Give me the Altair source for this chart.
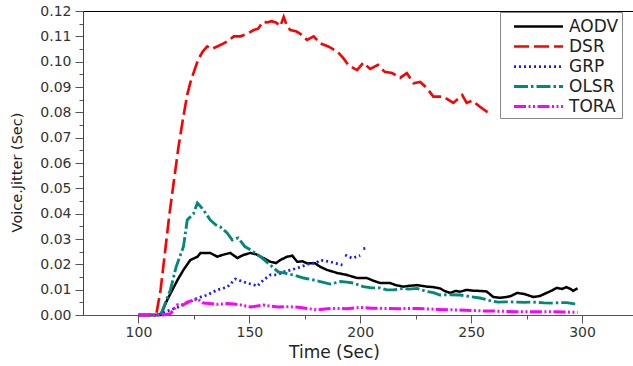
import altair as alt
import pandas as pd

SERIES = ["AODV", "DSR", "GRP", "OLSR", "TORA"]
COLORS = ["#000000", "#ff0000", "#1a1aff", "#00897b", "#ff00ff"]
DASHES = [[1, 0], [15, 5], [2, 3], [14, 3, 2.5, 3], [12, 2.5, 2, 2.5, 2, 2.5]]
WIDTHS = [2.5, 3, 2.2, 2.5, 2.2]

X_TICKS = [100, 125, 150, 175, 200, 225, 250, 275, 300]
Y_TICKS = [round(i * 0.005, 3) for i in range(25)]

AODV = [[(100, 0), (110, 0), (113, 0.006), (117.6, 0.0138), (120.3, 0.0178), (123.4, 0.0217),
         (126.6, 0.023), (128, 0.0245), (132.4, 0.0245), (135.5, 0.023), (137.8, 0.0237),
         (141.4, 0.0245), (144.6, 0.0225), (147.3, 0.0237), (150.5, 0.0245), (153, 0.024),
         (156.3, 0.0225), (159.5, 0.021), (162, 0.0205), (164, 0.0217), (167, 0.023),
         (169.4, 0.0234), (171.6, 0.021), (174, 0.0212), (176, 0.0204), (179.7, 0.0204),
         (182, 0.019), (185, 0.0178), (189.6, 0.0166), (194, 0.0158), (198.6, 0.0146),
         (203, 0.0146), (206, 0.0135), (209, 0.0126), (213.5, 0.0126), (216, 0.0118),
         (219.4, 0.0112), (222, 0.0115), (225.6, 0.0118), (230, 0.0112), (233, 0.011),
         (236, 0.0105), (238, 0.0095), (240.5, 0.0087), (243, 0.0095), (245, 0.0092),
         (248, 0.0099), (251, 0.0096), (254, 0.0095), (257, 0.0093), (260, 0.0071),
         (263, 0.0068), (266, 0.0071), (268, 0.0075), (270.7, 0.0087), (274, 0.0083),
         (278, 0.0071), (281, 0.0075), (284, 0.0087), (286, 0.0095), (288.7, 0.0107),
         (291, 0.0103), (293, 0.011), (295, 0.0102), (296, 0.0095), (298, 0.0105)]]

DSR = [[(100, 0), (108, 0), (110, 0.010), (112, 0.025), (114, 0.040), (116, 0.053), (118, 0.066),
        (120, 0.077), (122, 0.087), (123.5, 0.092), (125, 0.096), (127, 0.101), (129, 0.104),
        (131, 0.106), (133, 0.105), (135.5, 0.106), (138, 0.107), (140, 0.108), (143, 0.110),
        (146, 0.110), (149, 0.111), (152, 0.1125), (154, 0.113), (156, 0.1157), (158, 0.1155),
        (160, 0.116), (162, 0.1155), (164, 0.114), (165.5, 0.1177), (167, 0.114),
        (168.5, 0.1125), (171, 0.112), (173, 0.111), (176, 0.1086), (179, 0.110),
        (182, 0.1072), (185.6, 0.106), (189.6, 0.104), (192.3, 0.1015), (194.6, 0.0987),
        (198.6, 0.0967), (201.4, 0.0996), (204.5, 0.0971), (208, 0.0987), (211, 0.096),
        (214.4, 0.0955), (218, 0.0936), (221, 0.0955), (224, 0.0915), (227, 0.092),
        (230, 0.0896), (233, 0.0862), (237.4, 0.0862), (242, 0.0837), (246, 0.0868),
        (248, 0.0837), (250.5, 0.0846), (254, 0.0822), (257, 0.0803), (259, 0.0797)]]

GRP = [[(100, 0), (108.5, 0), (111, 0.001), (114.4, 0.002), (117.6, 0.003), (122, 0.0047),
        (124.8, 0.0059), (126.6, 0.0067), (131, 0.0079), (135.5, 0.0099), (140, 0.011),
        (143.7, 0.0142), (146, 0.0135), (149, 0.0126), (151.8, 0.012), (153.6, 0.0114),
        (156.3, 0.0138), (159.5, 0.0158), (162.6, 0.0158), (165.4, 0.017), (171.6, 0.0185),
        (177.5, 0.0204), (180, 0.0205), (182, 0.0217), (186.5, 0.021), (192, 0.0197)],
       [(193.2, 0.0237), (196.4, 0.0224), (200, 0.0235)],
       [(201.4, 0.0262), (203.6, 0.0264)]]

OLSR = [[(100, 0), (110, 0), (114.4, 0.0099), (117, 0.019), (120.3, 0.027), (122, 0.0375),
         (124.8, 0.040), (126.6, 0.0442), (129.3, 0.0415), (132.4, 0.0375), (135, 0.0355),
         (137, 0.0347), (140, 0.0324), (142.3, 0.0296), (145, 0.0304), (148, 0.027),
         (150.5, 0.0257), (155, 0.023), (159.5, 0.0197), (163, 0.017), (166, 0.0165),
         (170, 0.0158), (174.5, 0.0146), (178, 0.014), (182, 0.0132), (186.5, 0.0122),
         (191, 0.0132), (194, 0.013), (197, 0.0126), (201.4, 0.0112), (205, 0.0107),
         (209, 0.0107), (212, 0.0099), (215, 0.0099), (219.4, 0.0105), (222, 0.0102),
         (225.6, 0.0105), (230, 0.0093), (233, 0.0088), (236, 0.0079), (240, 0.008),
         (245, 0.0079), (250, 0.0072), (254, 0.0067), (258, 0.0058), (262, 0.0051),
         (266, 0.0052), (270.7, 0.0051), (274, 0.005), (278, 0.0051), (283, 0.0048),
         (287, 0.0047), (290, 0.0049), (293, 0.0049), (296, 0.0045), (298, 0.0043)]]

TORA = [[(100, 0), (111, 0), (114.4, 0.0005), (117.6, 0.004), (120.3, 0.004), (122, 0.0051),
         (124.8, 0.0059), (126.6, 0.0063), (129.3, 0.0047), (132, 0.0045), (135.5, 0.0042),
         (140, 0.0045), (143, 0.0043), (146, 0.004), (150.5, 0.0032), (153, 0.0035),
         (156.3, 0.0039), (160, 0.0035), (163, 0.0032), (168, 0.0033), (173, 0.003),
         (176, 0.0026), (180.6, 0.002), (184, 0.0024), (188, 0.0026), (194, 0.0025),
         (200, 0.003), (205, 0.0027), (210, 0.0026), (218, 0.0025), (225.6, 0.0026),
         (235, 0.0022), (243, 0.002), (250, 0.0018), (256, 0.0016), (263, 0.0015),
         (270, 0.0013), (278, 0.0013), (285, 0.0013), (292, 0.0012), (298, 0.001)]]

rows = []
for name, segs in zip(SERIES, [AODV, DSR, GRP, OLSR, TORA]):
    for k, seg in enumerate(segs):
        for t, v in seg:
            rows.append({"series": name, "key": f"{name}-{k}", "t": t, "v": v})
df = pd.DataFrame(rows)

FONT = "DejaVu Sans"

legend = alt.Legend(
    title=None, orient="none", legendX=417, legendY=1,
    symbolType="M-2.5,0L2.5,0", symbolSize=384, symbolStrokeWidth=2.5,
    labelFont=FONT, labelFontSize=17, labelColor="#222", labelOffset=19,
    padding=3, symbolOffset=24, strokeColor="#888", fillColor="white",
    rowPadding=0,
)

x_scale = alt.Scale(domain=[75, 323], nice=False, zero=False)
y_scale = alt.Scale(domain=[0, 0.12], nice=False)

lines = alt.Chart(df).mark_line().encode(
    x=alt.X("t:Q", scale=x_scale, axis=alt.Axis(
        values=X_TICKS, format="d",
        labelExpr="datum.value % 50 === 0 ? datum.label : ''",
        tickSize={"condition": {"test": "datum.value % 50 === 0", "value": 8}, "value": 4},
        labelPadding=2, labelFont=FONT, labelFontSize=14, labelColor="#333",
        domainColor="#555", tickColor="#555", grid=False,
        title="Time (Sec)", titleFont=FONT, titleFontSize=17, titleFontWeight="normal",
        titleColor="#222", titleX=251, titleY=37, titleBaseline="middle")),
    y=alt.Y("v:Q", scale=y_scale, axis=alt.Axis(
        values=Y_TICKS, format=".2f",
        labelExpr="round(datum.value * 1000) % 10 === 0 ? datum.label : ''",
        tickSize={"condition": {"test": "round(datum.value * 1000) % 10 === 0", "value": 8}, "value": 4},
        labelPadding=4, labelFont=FONT, labelFontSize=14, labelColor="#333",
        domainColor="#444", tickColor="#555", grid=False,
        title="Voice.Jitter (Sec)", titleFont=FONT, titleFontSize=14.5, titleFontWeight="normal",
        titleColor="#222", titleX=-66, titleY=161, titleBaseline="middle")),
    color=alt.Color("series:N", scale=alt.Scale(domain=SERIES, range=COLORS), legend=legend),
    strokeDash=alt.StrokeDash("series:N", scale=alt.Scale(domain=SERIES, range=DASHES), legend=legend),
    strokeWidth=alt.StrokeWidth("series:N", scale=alt.Scale(domain=SERIES, range=WIDTHS), legend=None),
    detail="key:N",
)

frame = alt.Chart(df).mark_point(opacity=0).encode(
    x=alt.X("t:Q", scale=x_scale, axis=alt.Axis(
        orient="top", labels=False, ticks=False, title=None, grid=False,
        domainColor="#000", domainWidth=1)),
)

chart = alt.layer(lines, frame).resolve_axis(x="independent").properties(
    width=550, height=304,
    padding={"left": 83, "top": 11, "right": 0, "bottom": 51},
    autosize=alt.AutoSizeParams(type="none"),
).configure_view(stroke=None).configure(background="white")

chart.save("out.html", embed_options={"renderer": "svg", "actions": False})
